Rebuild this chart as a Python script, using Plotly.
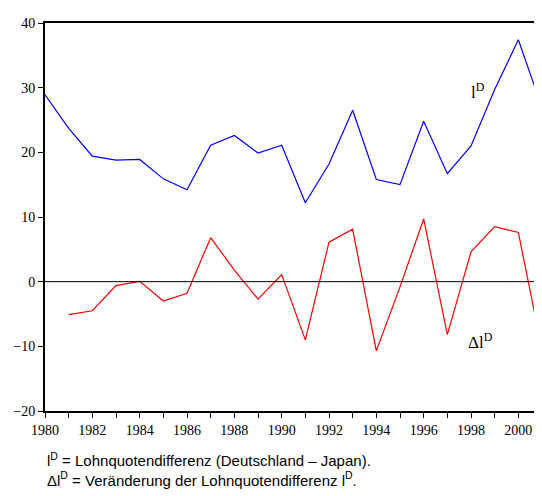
import plotly.graph_objects as go

years = list(range(1980, 2002))
lD = [28.9, 23.7, 19.4, 18.8, 18.9, 15.9, 14.2, 21.1, 22.6, 19.9, 21.1, 12.2, 18.2, 26.5, 15.8, 15.0, 24.8, 16.7, 21.0, 29.7, 37.4, 26.9]
dyears = list(range(1981, 2002))
dlD = [-5.1, -4.5, -0.6, 0.05, -3.0, -1.8, 6.8, 1.8, -2.7, 1.1, -9.0, 6.1, 8.1, -10.7, -0.8, 9.7, -8.2, 4.6, 8.5, 7.6, -10.5]
xticks = list(range(1980, 2002, 2))
yticks = [-20, -10, 0, 10, 20, 30, 40]

fig = go.Figure()
fig.add_trace(go.Scatter(x=years, y=lD, mode="lines", line=dict(color="#0000ff", width=1.2), showlegend=False))
fig.add_trace(go.Scatter(x=dyears, y=dlD, mode="lines", line=dict(color="#ff0000", width=1.2), showlegend=False))
fig.add_hline(y=0, line=dict(color="black", width=1))

serif = "Liberation Serif"
fig.update_layout(
    width=534, height=488, margin=dict(l=37, r=0, t=15, b=85, autoexpand=False),
    plot_bgcolor="white", paper_bgcolor="white",
    font=dict(family=serif, size=14, color="black"),
    xaxis=dict(range=[1980, 2001], tickvals=xticks, ticktext=[str(t) for t in xticks],
               ticks="outside", ticklen=5, tickcolor="black", showgrid=False, zeroline=False,
               showline=True, linecolor="black", linewidth=2, mirror=True, automargin=False,
               minor=dict(dtick=1, tick0=1980, ticks="outside", ticklen=5, tickcolor="black"),
               tickfont=dict(family=serif, size=14)),
    yaxis=dict(range=[-20, 40], tickvals=yticks, ticks="outside", ticklen=5, tickcolor="black",
               showgrid=False, zeroline=False, showline=True, linecolor="black", linewidth=2,
               mirror=True, automargin=False, tickfont=dict(family=serif, size=14)),
    annotations=[
        dict(x=1998.3, y=29.5, text="l<sup>D</sup>", showarrow=False, font=dict(family=serif, size=17)),
        dict(x=1998.4, y=-9.2, text="Δl<sup>D</sup>", showarrow=False, font=dict(family=serif, size=17)),
        dict(xref="paper", yref="paper", x=0.0, y=-0.095, xanchor="left", yanchor="top", align="left",
             showarrow=False, font=dict(family="Liberation Sans", size=15),
             text="l<sup>D</sup> = Lohnquotendifferenz (Deutschland – Japan).<br>Δl<sup>D</sup> = Veränderung der Lohnquotendifferenz l<sup>D</sup>."),
    ],
)
fig.write_html("out.html")
